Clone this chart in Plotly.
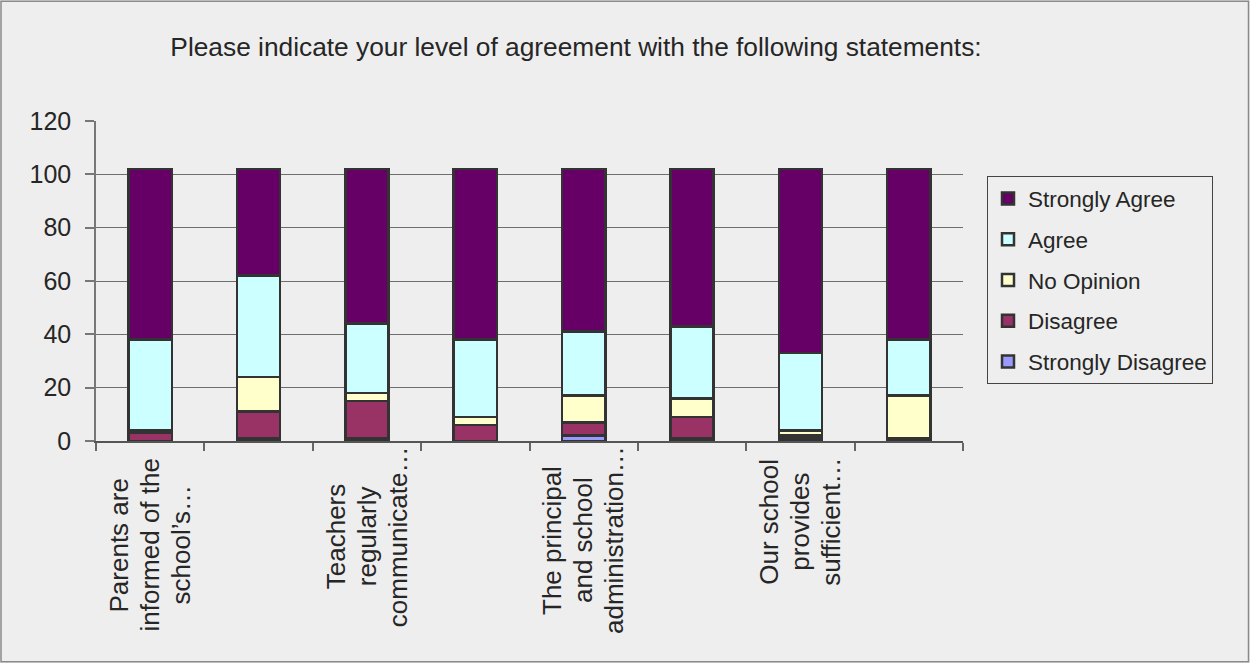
import plotly.graph_objects as go

# ---- data ----
categories = [
    "Parents are<br>informed of the<br>school’s…",
    "",
    "Teachers<br>regularly<br>communicate…",
    "",
    "The principal<br>and school<br>administration…",
    "",
    "Our school<br>provides<br>sufficient…",
    "",
]
series_names = ["Strongly Disagree", "Disagree", "No Opinion", "Agree", "Strongly Agree"]
strongly_disagree = [0, 1, 1, 0, 2, 1, 1, 0]
disagree = [3, 10, 14, 6, 5, 8, 1, 1]
no_opinion = [1, 13, 3, 3, 10, 7, 2, 16]
agree = [34, 38, 26, 29, 24, 27, 29, 21]
strongly_agree = [64, 40, 58, 64, 61, 59, 69, 64]
colors = ["#9999FF", "#993366", "#FFFFCC", "#CCFFFF", "#660066"]
y_ticks = [0, 20, 40, 60, 80, 100, 120]

title = "Please indicate your level of agreement with the following statements:"

FONT = "Liberation Sans, Arial, sans-serif"
TXT = "#262626"
BG = "#EEEEEE"

# plot-area geometry (pixels)
PL, PR, PT, PB = 96, 963, 120.7, 440.7
W, H = 1250, 663
PW, PH = PR - PL, PB - PT

x = list(range(len(categories)))
values = [strongly_disagree, disagree, no_opinion, agree, strongly_agree]

fig = go.Figure()
n = len(series_names)
for i, (name, vals, col) in enumerate(zip(series_names, values, colors)):
    fig.add_trace(go.Bar(
        x=x, y=vals, name=name, width=0.4,
        marker=dict(color=col, line=dict(color="#333333", width=2.5)),
        legendgroup=name, legendrank=n - i,
    ))

# category labels: one rotated annotation per line, lines centred
label_centres = [545, None, 536, None, 540, None, 521, None]
for i, lab in enumerate(categories):
    if not lab:
        continue
    lines = lab.split("<br>")
    for j, ln in enumerate(lines):
        fig.add_annotation(
            x=i, xref="x", y=(PB - label_centres[i]) / PH, yref="paper",
            xanchor="center", yanchor="middle",
            xshift=(j - (len(lines) - 1) / 2) * 31,
            text=ln, textangle=-90, showarrow=False,
            font=dict(family=FONT, size=26, color=TXT),
        )

# outer border
fig.add_shape(type="rect", xref="paper", yref="paper",
              x0=(1 - PL) / PW, x1=(W - 1.5 - PL) / PW,
              y0=(PB - (H - 1.5)) / PH, y1=(PB - 1) / PH,
              line=dict(color="#8A8A8A", width=1.5), fillcolor="rgba(0,0,0,0)", layer="below")

fig.update_layout(
    width=W, height=H,
    barmode="stack",
    paper_bgcolor=BG, plot_bgcolor=BG,
    margin=dict(l=PL, r=W - PR, t=PT, b=H - PB, autoexpand=False),
    title=dict(text=title, x=576 / W, xref="container", xanchor="center",
               y=1 - 47 / H, yref="container", yanchor="middle",
               font=dict(family=FONT, size=26.3, color=TXT)),
    font=dict(family=FONT, color=TXT),
    showlegend=True,
    legend=dict(
        x=(987 - PL) / PW, xanchor="left", y=(PB - 176) / PH, yanchor="top",
        bgcolor=BG, bordercolor="#444444", borderwidth=1,
        traceorder="grouped", tracegroupgap=8.5,
        font=dict(family=FONT, size=22.5, color=TXT),
        itemwidth=30, entrywidth=222, entrywidthmode="pixels",
    ),
    hovermode=False,
)

fig.update_xaxes(
    range=[-0.5, len(categories) - 0.5],
    tickvals=x, showticklabels=False, ticks="",
    showgrid=False, zeroline=False,
    showline=True, linecolor="#555555", linewidth=1.5,
    minor=dict(tickvals=[v - 0.5 for v in range(len(categories) + 1)],
               ticks="outside", ticklen=8, tickcolor="#666666", tickwidth=1.5, showgrid=False),
)
fig.update_yaxes(
    range=[0, 120], tickvals=y_ticks,
    ticks="outside", ticklen=9, tickcolor="#777777", tickwidth=1.5,
    showgrid=True, gridcolor="#6E6E6E", gridwidth=1.2,
    zeroline=False, showline=True, linecolor="#777777", linewidth=1.5,
    tickfont=dict(family=FONT, size=25, color=TXT),
    ticklabelstandoff=9,
)

fig.write_html("out.html", config={"displayModeBar": False},
               post_script="document.body.style.margin='0';")
